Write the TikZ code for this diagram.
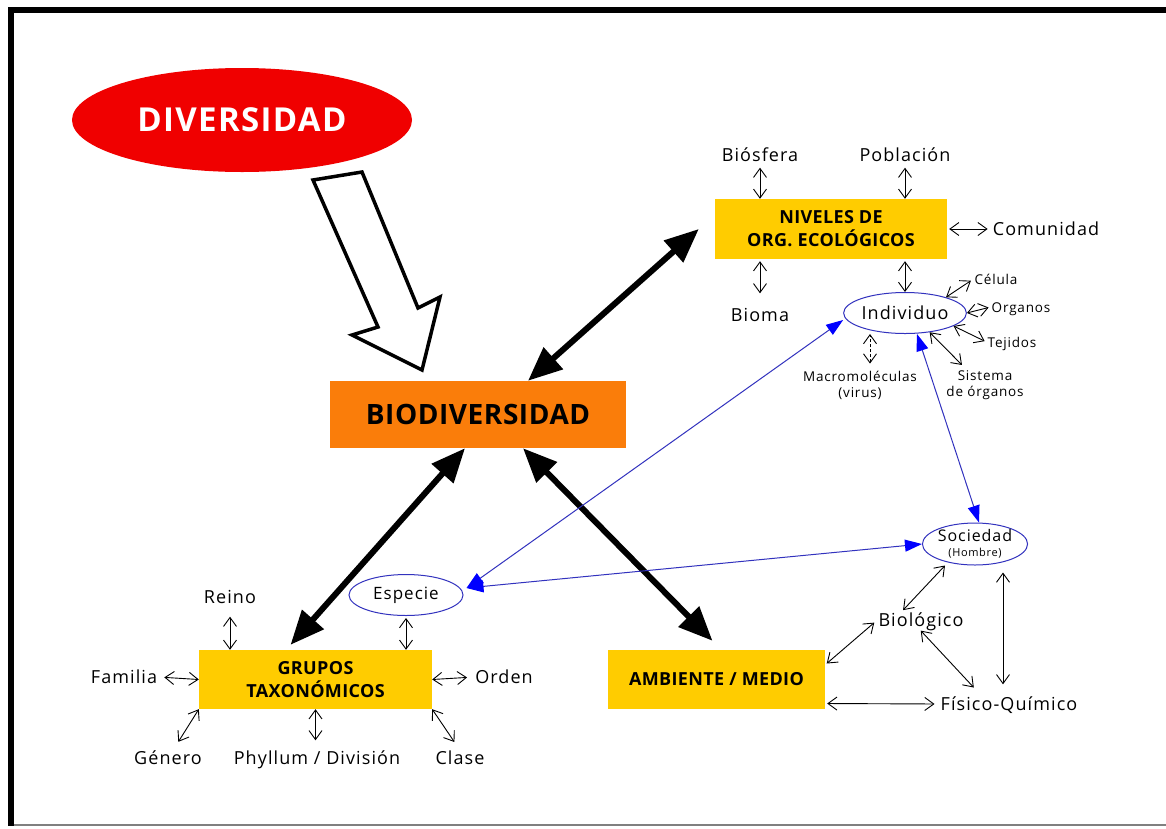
\documentclass[tikz,border=0pt]{standalone}
\usepackage{fontspec}
\setmainfont{Open Sans}[LetterSpace=6]
\newfontfamily\boxfont{Open Sans}[LetterSpace=2]
\newfontfamily\titlefont{Open Sans}[LetterSpace=4]
\usetikzlibrary{arrows.meta,shapes.geometric}
\definecolor{orng}{RGB}{250,125,10}
\definecolor{gold}{RGB}{255,204,0}
\definecolor{redd}{RGB}{240,0,0}
\definecolor{bline}{RGB}{50,50,190}
\definecolor{bhead}{RGB}{0,0,255}
\begin{document}
\begin{tikzpicture}[x=1pt,y=-1pt,
 box/.style={rectangle, inner sep=0pt, align=center, font=\boxfont\bfseries\fontsize{18}{23}\selectfont},
 lbl/.style={inner sep=1pt, text height=13pt, text depth=0pt, font=\fontsize{18}{20}\selectfont},
 sml/.style={inner sep=1pt, text height=10pt, text depth=0pt, font=\fontsize{13.5}{16}\selectfont},
 smtwo/.style={inner sep=1pt, align=center, font=\fontsize{13.5}{16}\selectfont},
 oval/.style={ellipse, draw=bline, line width=1pt, inner sep=0pt},
 thickarr/.style={line width=6pt, {Triangle[length=34pt,width=28pt]}-{Triangle[length=34pt,width=28pt]}},
 smarr/.style={line width=0.9pt, {Straight Barb[length=9pt,width=13pt]}-{Straight Barb[length=9pt,width=13pt]}},
 bluearr/.style={draw=bline, line width=1pt, {Triangle[length=17pt,width=12pt,color=bhead]}-{Triangle[length=17pt,width=12pt,color=bhead]}}
]
\useasboundingbox (0,0) rectangle (1166,828);
\fill[white] (0,0) rectangle (1166,828);
% frame
\fill[black] (8,7) rectangle (1166,13);
\fill[black] (8,7) rectangle (14,826);
\draw[gray, line width=1.5pt] (14,825) -- (1166,825);

% main nodes
\node[ellipse, fill=redd, minimum width=340pt, minimum height=104pt, inner sep=0pt, text=white,
      font=\titlefont\bfseries\fontsize{33}{35}\selectfont] (div) at (242,120) {DIVERSIDAD};
\node[box, fill=orng, minimum width=296pt, minimum height=67pt,
      font=\boxfont\bfseries\fontsize{28}{30}\selectfont] (bio) at (478,414.5) {BIODIVERSIDAD};
\node[box, fill=gold, minimum width=232pt, minimum height=60pt] (niv) at (831,229) {NIVELES DE\\ORG. ECOLÓGICOS};
\node[box, fill=gold, minimum width=233pt, minimum height=59pt] (gru) at (315.5,679.5) {GRUPOS\\TAXONÓMICOS};
\node[box, fill=gold, minimum width=217pt, minimum height=59pt] (amb) at (716.5,679.5) {AMBIENTE / MEDIO};

\node[oval, minimum width=114pt, minimum height=41pt, font=\fontsize{18}{20}\selectfont] (ind) at (905,313) {Individuo};
\node[oval, minimum width=114pt, minimum height=41pt, font=\fontsize{17}{19}\selectfont] (esp) at (406,595) {Especie};
\node[oval, minimum width=105pt, minimum height=42pt, align=center, font=\fontsize{16}{17}\selectfont] (soc) at (975,544)
      {Sociedad\\[-2pt]{\fontsize{11}{12}\selectfont (Hombre)}};

% labels
\node[lbl] (biosf) at (760,155) {Biósfera};
\node[lbl] (pobl) at (905,155) {Población};
\node[lbl] (comu) at (1046,229) {Comunidad};
\node[lbl] (biom) at (760,315) {Bioma};
\node[sml] (celu) at (996,279) {Célula};
\node[sml] (orga) at (1021,307) {Organos};
\node[sml] (teji) at (1012,342) {Tejidos};
\node[smtwo] (sist) at (985,385) {Sistema\\de órganos};
\node[smtwo] (macro) at (860,385) {Macromoléculas\\(virus)};
\node[lbl] (rein) at (230,597) {Reino};
\node[lbl] (fami) at (124,677) {Familia};
\node[lbl] (orde) at (504,677) {Orden};
\node[lbl] (gene) at (168,758) {Género};
\node[lbl] (phyl) at (317,758) {Phyllum / División};
\node[lbl] (clas) at (460,758) {Clase};
\node[lbl] (biol) at (921,620) {Biológico};
\node[lbl] (fisi) at (1009,704) {Físico-Químico};

% hollow arrow DIVERSIDAD -> BIODIVERSIDAD
\draw[line width=3.5pt, fill=white, line join=miter]
  (313,180) -- (378,327) -- (352,335) -- (422,370) -- (440,297) -- (418,308) -- (362,172) -- cycle;

% thick arrows
\draw[thickarr] ([xshift=50pt]bio.north) -- ([xshift=-16pt]niv.west);
\draw[thickarr] ([xshift=-13pt]bio.south) -- ([shift={(-25pt,5pt)}]gru.north);
\draw[thickarr] ([xshift=45pt]bio.south) -- ([shift={(-4pt,9pt)}]amb.north);

% blue arrows
\draw[bluearr] ([shift={(3pt,7pt)}]esp.east) -- ([yshift=-7pt]ind.west);
\draw[bluearr] ([shift={(3pt,7pt)}]esp.east) -- (soc.west);
\draw[bluearr] ([xshift=12pt]ind.south) -- ([xshift=4pt]soc.north);

% small arrows: niveles
\draw[smarr, shorten <=5pt] (biosf.south) -- (biosf.south |- niv.north);
\draw[smarr, shorten <=5pt] (pobl.south) -- (pobl.south |- niv.north);
\draw[smarr, shorten <=4pt, shorten >=2pt] (comu.west) -- (niv.east);
\draw[smarr, shorten <=14pt, shorten >=2pt] (biom.north) -- (biom.north |- niv.south);
\draw[smarr, shorten <=2pt] (niv.south -| ind.north) -- (ind.north);
% individuo
\draw[smarr, shorten >=3pt] (ind.21) -- (celu.west);
\draw[smarr, shorten >=2pt] (ind.east) -- (orga.west);
\draw[smarr, shorten >=2pt] (ind.-15) -- (teji.west);
\draw[smarr, shorten >=6pt] (ind.-38) -- (sist.140);
\draw[smarr, densely dashed, shorten <=6pt] ([xshift=10pt]macro.north) -- ([xshift=10pt]macro.north |- ind.south);
% grupos
\draw[smarr, shorten <=12pt] (rein.south) -- (rein.south |- gru.north);
\draw[smarr, shorten <=2pt] (esp.south) -- (esp.south |- gru.north);
\draw[smarr, shorten <=6pt] (fami.east) -- (gru.west);
\draw[smarr, shorten >=7pt] (gru.east) -- (orde.west);
\draw[smarr, shorten >=10pt] (gru.south west) -- ([xshift=5pt]gene.north);
\draw[smarr, shorten >=10pt] (gru.south) -- (gru.south |- phyl.north);
\draw[smarr, shorten >=10pt] (gru.south east) -- (clas.north);
% ambiente
\draw[smarr, shorten >=3pt] ([xshift=-30pt]soc.south) -- ([xshift=-20pt]biol.north);
\draw[smarr, shorten <=2pt, shorten >=4pt] ([yshift=-15pt]amb.north east) -- (biol.west);
\draw[smarr, shorten <=4pt, shorten >=12pt] ([xshift=-3pt]biol.south) -- ([xshift=-27pt]fisi.north);
\draw[smarr, shorten <=7pt, shorten >=12pt] ([xshift=28pt]soc.south) -- ([xshift=28pt]soc.south |- fisi.north);
\draw[smarr, shorten <=2pt, shorten >=5pt] ([yshift=-24pt]amb.east) -- (fisi.west);
\end{tikzpicture}
\end{document}
